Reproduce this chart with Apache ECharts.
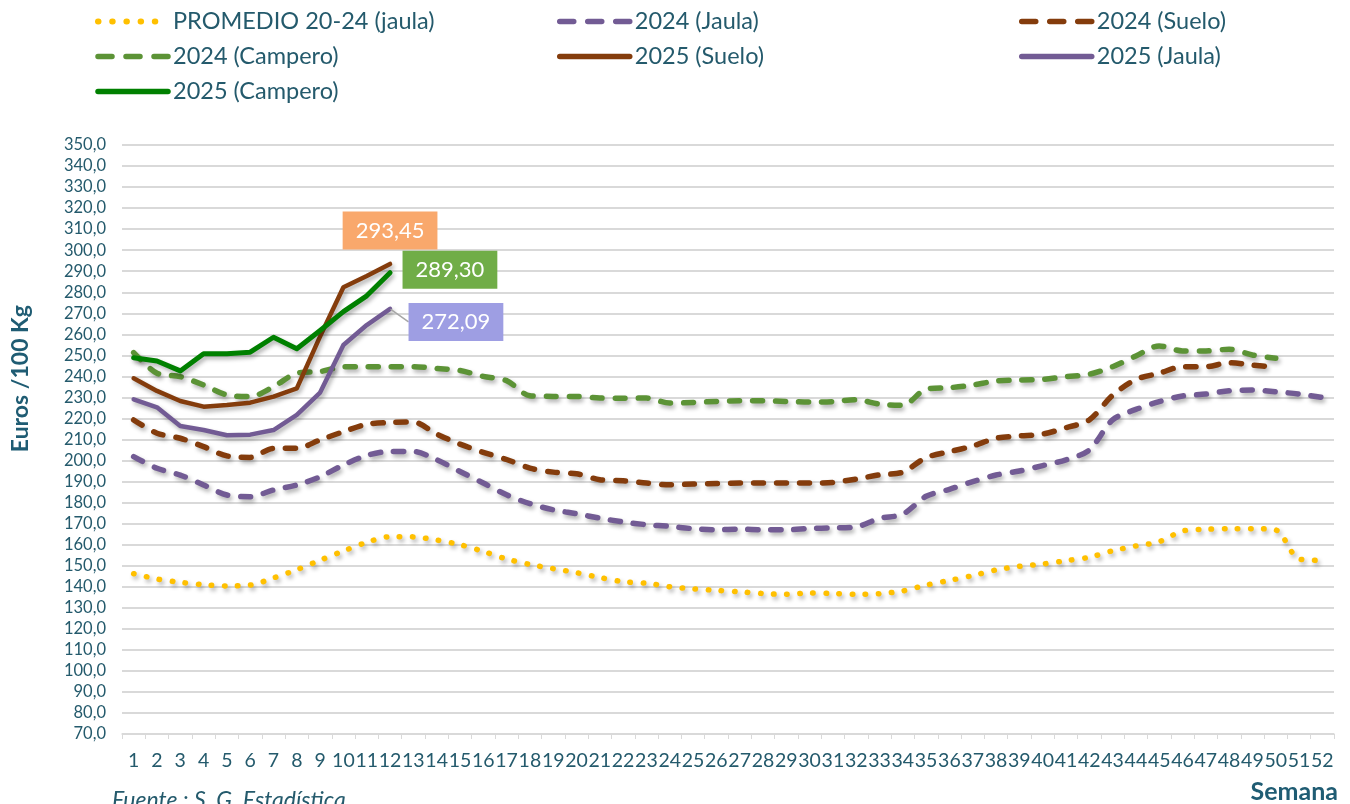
<!DOCTYPE html>
<html>
<head>
<meta charset="utf-8">
<style>
  html, body { margin: 0; padding: 0; background: #fff; }
  #main { width: 1350px; height: 804px; }
</style>
<script src="https://cdn.jsdelivr.net/npm/echarts@6.0.0/dist/echarts.min.js"></script>
</head>
<body>
<div id="main"></div>
<script>
// semanas (eje X)
const semanas = ['1','2','3','4','5','6','7','8','9','10','11','12','13','14','15','16','17','18','19','20',
  '21','22','23','24','25','26','27','28','29','30','31','32','33','34','35','36','37','38','39','40',
  '41','42','43','44','45','46','47','48','49','50','51','52'];

// precios en euros / 100 kg
const promedio = [146.2, 143.7, 142.1, 141.0, 140.4, 140.8, 144.2, 148.1, 152.6, 157.0,
  161.1, 163.8, 163.7, 162.2, 160.0, 156.8, 153.2, 150.6, 148.6, 146.7,
  144.4, 142.4, 141.7, 140.0, 139.0, 138.3, 137.6, 136.8, 136.4, 137.0,
  136.8, 136.4, 136.7, 138.0, 140.8, 143.0, 145.3, 148.0, 149.7, 150.8,
  152.4, 154.0, 157.1, 159.4, 161.4, 166.5, 167.3, 167.6, 167.6, 167.0,
  153.2, 152.5];
const jaula2024 = [201.9, 196.3, 193.1, 188.4, 183.6, 182.8, 186.0, 188.4, 192.3, 197.9,
  202.4, 204.3, 204.3, 200.4, 194.8, 189.3, 183.7, 179.5, 176.6, 174.7,
  172.6, 170.8, 169.5, 168.7, 167.6, 167.1, 167.4, 167.1, 167.1, 167.7,
  168.0, 168.5, 172.5, 174.5, 183.0, 186.3, 190.0, 193.1, 195.0, 197.6,
  200.3, 205.0, 219.3, 224.3, 228.0, 230.7, 231.6, 233.2, 233.5, 232.7,
  231.6, 230.0];
const suelo2024 = [219.3, 213.0, 210.6, 206.6, 202.2, 201.5, 205.8, 205.8, 209.8, 213.7,
  217.2, 218.1, 218.3, 212.6, 207.8, 203.9, 200.5, 196.4, 194.5, 193.7,
  190.9, 190.4, 189.3, 188.5, 188.8, 189.1, 189.3, 189.3, 189.3, 189.3,
  189.6, 191.2, 193.2, 194.5, 201.4, 204.2, 206.9, 210.6, 211.7, 212.6,
  215.6, 219.3, 231.0, 238.5, 241.5, 244.6, 244.6, 246.5, 245.4, 244.3];
const campero2024 = [251.3, 241.5, 239.9, 235.9, 231.2, 230.4, 235.1, 241.5, 242.3, 244.6,
  244.6, 244.6, 244.6, 243.8, 242.8, 240.0, 238.0, 230.8, 230.5, 230.5,
  229.7, 229.6, 229.7, 227.3, 227.6, 228.1, 228.4, 228.4, 228.1, 227.8,
  228.0, 228.9, 226.8, 226.3, 233.9, 234.6, 235.9, 237.8, 238.3, 238.6,
  239.9, 241.0, 244.6, 249.7, 254.5, 252.1, 252.1, 252.9, 250.2, 248.6];
const suelo2025 = [239.1, 233.1, 228.3, 225.6, 226.4, 227.5, 230.4, 234.3, 259.0, 282.4, 287.7, 293.45];
const jaula2025 = [229.1, 225.3, 216.4, 214.5, 212.0, 212.3, 214.5, 221.7, 232.3, 254.9, 264.4, 272.09];
const campero2025 = [248.9, 247.3, 242.6, 250.8, 250.8, 251.5, 258.6, 253.1, 261.8, 270.8, 278.3, 289.30];

const azulTexto = '#245A6C';
const fuente = 'Lato, "Noto Sans", sans-serif';
const sombra = { shadowColor: 'rgba(0,0,0,0.3)', shadowBlur: 4, shadowOffsetX: 2, shadowOffsetY: 3 };
const coma = (v, d) => v.toFixed(d).replace('.', ',');

function serie(name, data, color, width, dash, smooth) {
    return {
        name: name,
        type: 'line',
        data: data,
        symbol: 'none',
        showSymbol: true,
        smooth: smooth,
        lineStyle: Object.assign({ color: color, width: width, type: dash, cap: 'round', join: 'round' }, sombra),
        itemStyle: { color: color }
    };
}

// etiqueta solo en el último punto
function conEtiqueta(data, label) {
    return data.map((v, i) => i === data.length - 1
        ? { value: v, symbol: 'circle', symbolSize: 1, label: label }
        : v);
}
function caja(bg, pos, extra) {
    return Object.assign({
        show: true,
        position: pos,
        formatter: p => coma(p.value, 2),
        color: '#fff',
        fontFamily: fuente,
        fontSize: 22,
        backgroundColor: bg,
        padding: [8, 13, 8, 13]
    }, extra || {});
}

const sPromedio = serie('PROMEDIO 20-24 (jaula)', promedio, '#FFC000', 5.5, [0.5, 12.6], 0.3);
const sJaula24 = serie('2024 (Jaula)', jaula2024, '#725B94', 5.5, [10, 13], 0.3);
const sSuelo24 = serie('2024 (Suelo)', suelo2024, '#843C0C', 5.5, [10, 13], 0.3);
const sCampero24 = serie('2024 (Campero)', campero2024, '#5C9336', 5.5, [10, 13], 0.3);
const sSuelo25 = serie('2025 (Suelo)', conEtiqueta(suelo2025, caja('#F9A86C', 'top', { distance: 14 })), '#843C0C', 4.5, 'solid', false);
const sJaula25 = serie('2025 (Jaula)', conEtiqueta(jaula2025, caja('#9E9EE3', 'right', { distance: 0 })), '#725B94', 4.5, 'solid', false);
sJaula25.labelLayout = { dx: 18, dy: 13 };
sJaula25.labelLine = { show: true, lineStyle: { color: '#A6A6A6', width: 1.5 } };
const sCampero25 = serie('2025 (Campero)', conEtiqueta(campero2025, caja('#70AD47', 'right', { distance: 12, offset: [0, -3] })), '#008000', 5, 'solid', false);

// trazos de la leyenda: 3 guiones / 5 puntos como en el original
const guion = { type: [14, 14], width: 5.5, cap: 'round' };
const punto = { type: [0.5, 13.7], width: 6, cap: 'round' };
const solido = { type: 'solid', width: 5.5, cap: 'round' };

function leyenda(left, items) {
    return {
        orient: 'vertical',
        left: left,
        top: 3,
        itemWidth: 70,
        itemHeight: 14,
        itemGap: 8,
        data: items.map(it => ({ name: it[0], lineStyle: it[1] })),
        itemStyle: { opacity: 0 },
        lineStyle: { width: 5.5 },
        textStyle: { color: azulTexto, fontFamily: fuente, fontSize: 23.5, lineHeight: 27 }
    };
}

let myChart = echarts.init(document.querySelector('#main'), null, { renderer: 'canvas' });
let option = {
    animation: false,
    backgroundColor: '#fff',
    legend: [
        leyenda(90, [['PROMEDIO 20-24 (jaula)', punto], ['2024 (Campero)', guion], ['2025 (Campero)', solido]]),
        leyenda(552, [['2024 (Jaula)', guion], ['2025 (Suelo)', solido]]),
        leyenda(1014, [['2024 (Suelo)', guion], ['2025 (Jaula)', solido]])
    ],
    grid: { left: 122, top: 145, width: 1212, height: 589 },
    xAxis: {
        type: 'category',
        data: semanas,
        boundaryGap: true,
        axisLine: { lineStyle: { color: '#D9D9D9', width: 1.5 } },
        axisTick: { show: true, length: 5, lineStyle: { color: '#D9D9D9' } },
        axisLabel: { interval: 0, margin: 17, color: azulTexto, fontFamily: fuente, fontSize: 19.5 }
    },
    yAxis: {
        type: 'value',
        min: 70,
        max: 350,
        interval: 10,
        axisLine: { show: false },
        axisTick: { show: false },
        axisLabel: { margin: 16, color: azulTexto, fontFamily: fuente, fontSize: 16.5, formatter: v => coma(v, 1) },
        splitLine: { lineStyle: { color: '#D9D9D9', width: 2 } }
    },
    graphic: [
        {
            type: 'text', left: 9, top: 305, rotation: Math.PI / 2,
            style: { text: 'Euros /100 Kg', fill: '#1F5C73', font: 'bold 23px ' + fuente }
        },
        {
            type: 'text', right: 12, top: 779,
            style: { text: 'Semana', fill: '#1F5C73', font: 'bold 25px ' + fuente }
        },
        {
            type: 'text', left: 112, top: 789,
            style: { text: 'Fuente : S. G. Estadística', fill: azulTexto, font: 'italic 23px ' + fuente }
        }
    ],
    series: [sPromedio, sJaula24, sSuelo24, sCampero24, sSuelo25, sJaula25, sCampero25]
};
myChart.setOption(option);
</script>
</body>
</html>
